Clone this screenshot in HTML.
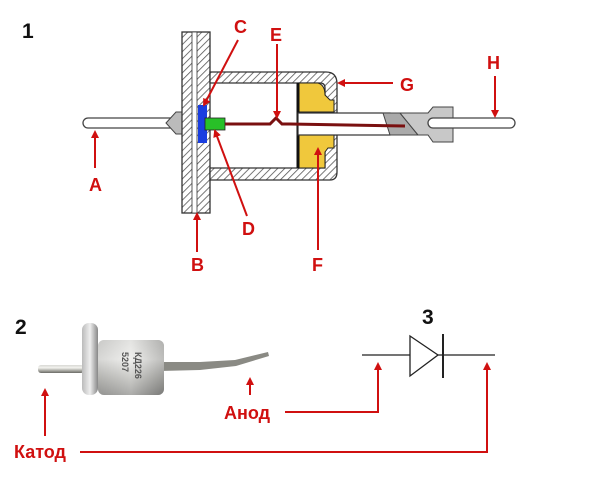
<!DOCTYPE html>
<html><head><style>
html,body{margin:0;padding:0;background:#fff;}
svg{display:block;}
text{font-family:"Liberation Sans","DejaVu Sans",sans-serif;font-weight:bold;}
</style></head><body>
<svg width="600" height="480" viewBox="0 0 600 480" xmlns="http://www.w3.org/2000/svg">
<defs>
<pattern id="h" patternUnits="userSpaceOnUse" width="5" height="5" patternTransform="rotate(45)">
<rect width="5" height="5" fill="#fff"/><line x1="0" y1="0" x2="0" y2="5" stroke="#555" stroke-width="1.6"/>
</pattern>
<marker id="ar" markerWidth="8" markerHeight="8" refX="6" refY="4" orient="auto" markerUnits="userSpaceOnUse">
<path d="M0,0 L8,4 L0,8 Z" fill="#d01010"/></marker>
<linearGradient id="met" x1="0" y1="0" x2="0" y2="1">
<stop offset="0" stop-color="#d8d8d4"/><stop offset="0.35" stop-color="#f2f2ee"/><stop offset="0.7" stop-color="#a8a8a2"/><stop offset="1" stop-color="#6a6a66"/></linearGradient>
<linearGradient id="metv" x1="0" y1="0" x2="1" y2="0">
<stop offset="0" stop-color="#bbb"/><stop offset="0.5" stop-color="#eee"/><stop offset="1" stop-color="#888"/></linearGradient>
</defs>
<text x="22" y="38" font-size="21" fill="#111">1</text>
<rect x="83" y="118" width="97" height="10" rx="5" fill="#fff" stroke="#444" stroke-width="1.3"/>
<path d="M166,123 L176,112 L182,112 L182,134 L176,134 Z" fill="#bbb" stroke="#444"/>
<rect x="182" y="32" width="28" height="181" fill="url(#h)" stroke="#333" stroke-width="1.3"/>
<rect x="192" y="32" width="5" height="181" fill="#fff" stroke="#333" stroke-width="0.8"/>
<path d="M210,72 L326,72 Q337,72 337,84 L337,113 L325,113 L325,88 Q325,83 320,83 L210,83 Z" fill="url(#h)" stroke="#333" stroke-width="1.3"/>
<path d="M210,168 L325,168 L325,135 L337,135 L337,172 Q337,180 330,180 L210,180 Z" fill="url(#h)" stroke="#333" stroke-width="1.3"/>
<path d="M298,83 L318,83 Q325,85 325,95 L330,100 L334,100 L334,112 L298,112 Z" fill="#f0c83c" stroke="#222" stroke-width="1"/>
<path d="M298,135 L334,135 L334,148 L328,148 L325,152 L325,168 L298,168 Z" fill="#f0c83c" stroke="#222" stroke-width="1"/>
<line x1="298" y1="83" x2="298" y2="168" stroke="#111" stroke-width="3"/>
<rect x="298" y="113" width="92" height="22" fill="#fff" stroke="#333" stroke-width="1.2"/>
<path d="M383,113 L400,113 L418,135 L390,135 Z" fill="#aaa" stroke="#444"/>
<path d="M400,113 L428,113 L433,107 L453,107 L453,142 L433,142 L428,135 L418,135 Z" fill="#c8c8c8" stroke="#444"/>
<rect x="428" y="118" width="87" height="10" rx="5" fill="#fff" stroke="#444" stroke-width="1.3"/>
<rect x="198" y="105" width="9" height="38" fill="#1a3ee0"/>
<rect x="205" y="118" width="20" height="12" fill="#28c028" stroke="#222" stroke-width="0.8"/>
<path d="M225,124 L270,124 L276,118 L282,124 L290,124 L405,126" fill="none" stroke="#7a1010" stroke-width="3"/>
<g fill="#d01010" font-size="18">
<text x="234" y="33">C</text><text x="270" y="41">E</text><text x="400" y="91">G</text>
<text x="487" y="69">H</text><text x="89" y="191">A</text><text x="191" y="271">B</text>
<text x="242" y="235">D</text><text x="312" y="271">F</text>
</g>
<g stroke="#d01010" stroke-width="2" marker-end="url(#ar)" fill="none">
<line x1="238" y1="40" x2="204" y2="105"/>
<line x1="277" y1="44" x2="277" y2="117"/>
<line x1="393" y1="83" x2="339" y2="83"/>
<line x1="495" y1="76" x2="495" y2="116"/>
<line x1="95" y1="168" x2="95" y2="132"/>
<line x1="197" y1="252" x2="197" y2="214"/>
<line x1="247" y1="216" x2="215" y2="131"/>
<line x1="318" y1="250" x2="318" y2="149"/>
</g>
<text x="15" y="334" font-size="21" fill="#111">2</text>
<rect x="38" y="365" width="46" height="8" rx="3" fill="url(#met)"/>
<path d="M160,362 L200,362 L235,360 L268,352 L269,356 L236,366 L200,370 L160,371 Z" fill="#8a8a84"/>
<rect x="98" y="340" width="66" height="55" rx="6" fill="url(#metv)"/>
<rect x="98" y="340" width="66" height="55" rx="6" fill="url(#met)" opacity="0.5"/>
<rect x="82" y="323" width="16" height="72" rx="7" fill="url(#metv)"/>
<text x="135" y="352" font-size="9" fill="#555" font-weight="normal" transform="rotate(90 135 352)">КД226</text>
<text x="122" y="352" font-size="9" fill="#555" font-weight="normal" transform="rotate(90 122 352)">5207</text>
<text x="422" y="324" font-size="21" fill="#111">3</text>
<line x1="362" y1="355" x2="495" y2="355" stroke="#222" stroke-width="1.3"/>
<path d="M410,336 L438,355 L410,376 Z" fill="#fff" stroke="#222" stroke-width="1.3"/>
<line x1="443" y1="334" x2="443" y2="378" stroke="#222" stroke-width="2"/>
<g fill="#d01010" font-size="18">
<text x="224" y="419">Анод</text><text x="14" y="458">Катод</text>
</g>
<g stroke="#d01010" stroke-width="2" fill="none">
<polyline points="285,412 378,412 378,364" marker-end="url(#ar)"/>
<polyline points="80,452 487,452 487,364" marker-end="url(#ar)"/>
<line x1="250" y1="395" x2="250" y2="379" marker-end="url(#ar)"/>
<line x1="45" y1="436" x2="45" y2="390" marker-end="url(#ar)"/>
</g>
</svg>
</body></html>
